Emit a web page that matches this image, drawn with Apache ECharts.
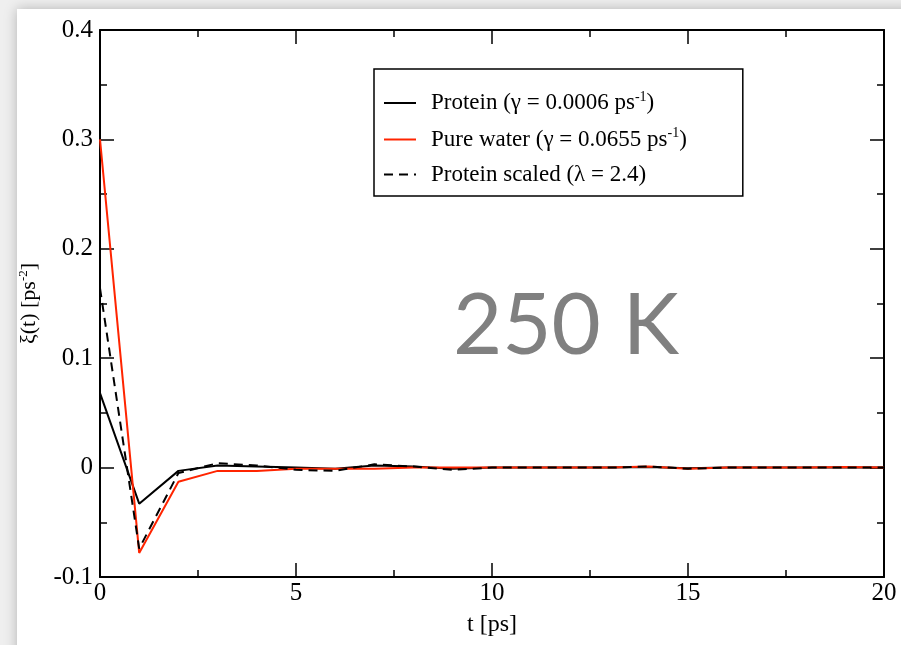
<!DOCTYPE html>
<html>
<head>
<meta charset="utf-8">
<script src="https://cdn.jsdelivr.net/npm/echarts@6/dist/echarts.min.js"></script>
<style>
  html, body { margin: 0; padding: 0; background: #fff; }
  #main { width: 901px; height: 645px; }
</style>
</head>
<body>
<div id="main"></div>
<script>
// time points (ps)
var times = [0, 1, 2, 3, 4, 5, 6, 7, 8, 9, 10, 11, 12, 13, 14, 15, 16, 17, 18, 19, 20];
// xi(t) for the three curves
var protein = [0.068, -0.033, -0.003, 0.002, 0.001, 0, -0.001, 0.002, 0.001, -0.001, 0, 0, 0, 0, 0.0005, -0.0005, 0, 0, 0, 0, 0];
var pureWater = [0.300, -0.078, -0.013, -0.003, -0.003, -0.001, -0.001, -0.001, 0, 0, 0, 0, 0, 0, 0.001, -0.001, 0, 0, 0, 0.0005, 0];
var proteinScaled = [0.164, -0.074, -0.005, 0.004, 0.002, -0.002, -0.003, 0.003, 0.001, -0.002, 0, 0, 0, 0, 0.001, -0.001, 0, 0, 0, 0, 0];

var seriesNames = ['Protein', 'Pure water', 'Protein scaled'];
var legendLabels = {
    'Protein': 'Protein (γ = 0.0006 ps{sup|-1})',
    'Pure water': 'Pure water (γ = 0.0655 ps{sup|-1})',
    'Protein scaled': 'Protein scaled (λ = 2.4)'
};

function pairs(ys) {
    var out = [];
    for (var i = 0; i < times.length; i++) {
        out.push([times[i], ys[i]]);
    }
    return out;
}

var serif = '"Liberation Serif", "DejaVu Serif", serif';
var chart = echarts.init(document.getElementById('main'));

// shared axis look (ticks inside, black frame)
var axisLine = { show: true, onZero: false, lineStyle: { color: '#000', width: 2 } };
var axisTick = { show: true, inside: true, length: 14, lineStyle: { color: '#000', width: 1.5 } };
var minorTick = { show: true, splitNumber: 2, length: 7, lineStyle: { color: '#000', width: 1.5 } };

var option = {
    backgroundColor: '#efefef',
    animation: false,
    graphic: [
        {
            type: 'rect', z: -10,
            shape: { x: 17, y: 9, width: 900, height: 650 },
            style: { fill: '#fff', shadowBlur: 12, shadowColor: 'rgba(0,0,0,0.25)' }
        },
        {
            type: 'text', z: 10,
            x: 566, y: 327,
            style: {
                text: '250 K',
                fontFamily: 'Lato, "Open Sans", sans-serif',
                fontSize: 85,
                fill: '#808080',
                align: 'center',
                verticalAlign: 'middle'
            }
        }
    ],
    grid: { left: 100, top: 30, right: 17, bottom: 68 },
    legend: {
        data: seriesNames,
        orient: 'vertical',
        left: 374,
        top: 69,
        padding: [21, 56, 10, 9],
        itemGap: 12,
        itemWidth: 32,
        itemHeight: 12,
        borderColor: '#000',
        borderWidth: 1.5,
        backgroundColor: '#fff',
        itemStyle: { opacity: 0 },
        formatter: function (name) { return legendLabels[name]; },
        textStyle: {
            fontFamily: serif,
            fontSize: 23,
            color: '#000',
            padding: [0, 0, 0, 10],
            rich: {
                sup: { fontFamily: serif, fontSize: 14, color: '#000', padding: [0, 0, 12, 0] }
            }
        }
    },
    xAxis: [
        {
            type: 'value', min: 0, max: 20, interval: 5,
            name: 't [ps]', nameLocation: 'middle', nameGap: 36,
            nameTextStyle: { fontFamily: serif, fontSize: 24, color: '#000' },
            axisLine: axisLine, axisTick: axisTick, minorTick: minorTick,
            splitLine: { show: false },
            axisLabel: { fontFamily: serif, fontSize: 25, color: '#000', margin: 4 }
        },
        {
            type: 'value', min: 0, max: 20, interval: 5, position: 'top',
            axisLine: axisLine, axisTick: axisTick, minorTick: minorTick,
            splitLine: { show: false }, axisLabel: { show: false }
        }
    ],
    yAxis: [
        {
            type: 'value', min: -0.1, max: 0.4, interval: 0.1,
            name: 'ξ(t) [ps{sup|-2}]', nameLocation: 'middle', nameGap: 58,
            nameTextStyle: {
                fontFamily: serif, fontSize: 22, color: '#000',
                rich: { sup: { fontFamily: serif, fontSize: 13, color: '#000', padding: [0, 0, 12, 0] } }
            },
            axisLine: axisLine, axisTick: axisTick, minorTick: minorTick,
            splitLine: { show: false },
            axisLabel: {
                fontFamily: serif, fontSize: 25, color: '#000', margin: 7,
                formatter: function (v) { return String(Math.round(v * 10) / 10); }
            }
        },
        {
            type: 'value', min: -0.1, max: 0.4, interval: 0.1, position: 'right',
            axisLine: axisLine, axisTick: axisTick, minorTick: minorTick,
            splitLine: { show: false }, axisLabel: { show: false }
        }
    ],
    series: [
        {
            name: 'Protein', type: 'line', data: pairs(protein),
            symbol: 'none', z: 3,
            itemStyle: { color: '#000' },
            lineStyle: { color: '#000', width: 2 }
        },
        {
            name: 'Pure water', type: 'line', data: pairs(pureWater),
            symbol: 'none', z: 4,
            itemStyle: { color: '#ff2400' },
            lineStyle: { color: '#ff2400', width: 2 }
        },
        {
            name: 'Protein scaled', type: 'line', data: pairs(proteinScaled),
            symbol: 'none', z: 5,
            itemStyle: { color: '#000' },
            lineStyle: { color: '#000', width: 2, type: [9, 6] }
        }
    ]
};

chart.setOption(option);
</script>
</body>
</html>
